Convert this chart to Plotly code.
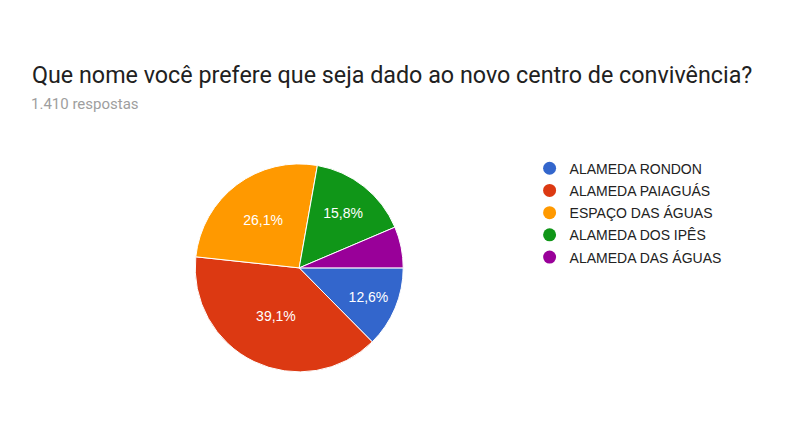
import plotly.graph_objects as go

opcoes = ['ALAMEDA RONDON', 'ALAMEDA PAIAGUÁS', 'ESPAÇO DAS ÁGUAS',
          'ALAMEDA DOS IPÊS', 'ALAMEDA DAS ÁGUAS']
percentuais = [12.6, 39.1, 26.1, 15.8, 6.4]
cores = ['#3366cc', '#dc3912', '#ff9900', '#109618', '#990099']

# o google forms nao escreve o rotulo nas fatias pequenas
rotulos = ['%{percent:.1%}' if p >= 10 else '' for p in percentuais]

fig = go.Figure()
fig.add_trace(go.Pie(labels=opcoes, values=percentuais,
                     sort=False, direction='clockwise', rotation=90,
                     marker={'colors': cores,
                             'line': {'color': 'white', 'width': 1}},
                     texttemplate=rotulos, textposition='inside',
                     insidetextorientation='horizontal',
                     textfont={'color': 'white', 'size': 14,
                               'family': 'Liberation Sans'},
                     domain={'x': [0.244, 0.504], 'y': [0.135, 0.619]},
                     showlegend=False, hoverinfo='label+percent'))

# legenda com bolinhas, como no original
for i, nome in enumerate(opcoes):
    fig.add_trace(go.Scatter(x=[None], y=[None], mode='markers', name=nome,
                             legendgroup=str(i), hoverinfo='skip',
                             marker={'symbol': 'circle', 'size': 13,
                                     'color': cores[i]}))

fig.update_layout(
    width=800, height=430,
    separators=',.',
    paper_bgcolor='white', plot_bgcolor='white',
    margin={'l': 0, 'r': 0, 'b': 0, 't': 0},
    xaxis={'visible': False}, yaxis={'visible': False},
    legend={'x': 0.662, 'y': 0.645, 'xanchor': 'left', 'yanchor': 'top',
            'font': {'family': 'Liberation Sans', 'size': 14,
                     'color': '#222222'},
            'tracegroupgap': 1, 'itemwidth': 30},
    annotations=[
        {'text': 'Que nome você prefere que seja dado ao novo centro de convivência?',
         'x': 30 / 800, 'y': 1 - 75 / 430, 'xref': 'paper', 'yref': 'paper',
         'xanchor': 'left', 'yanchor': 'middle', 'showarrow': False,
         'font': {'family': 'Roboto', 'size': 23.3, 'color': '#212121'}},
        {'text': '1.410 respostas',
         'x': 29 / 800, 'y': 1 - 104 / 430, 'xref': 'paper', 'yref': 'paper',
         'xanchor': 'left', 'yanchor': 'middle', 'showarrow': False,
         'font': {'family': 'Roboto', 'size': 15, 'color': '#9e9e9e'}},
    ])

fig.write_html('out.html', config={'displayModeBar': False},
               post_script="document.body.style.margin='0';")
